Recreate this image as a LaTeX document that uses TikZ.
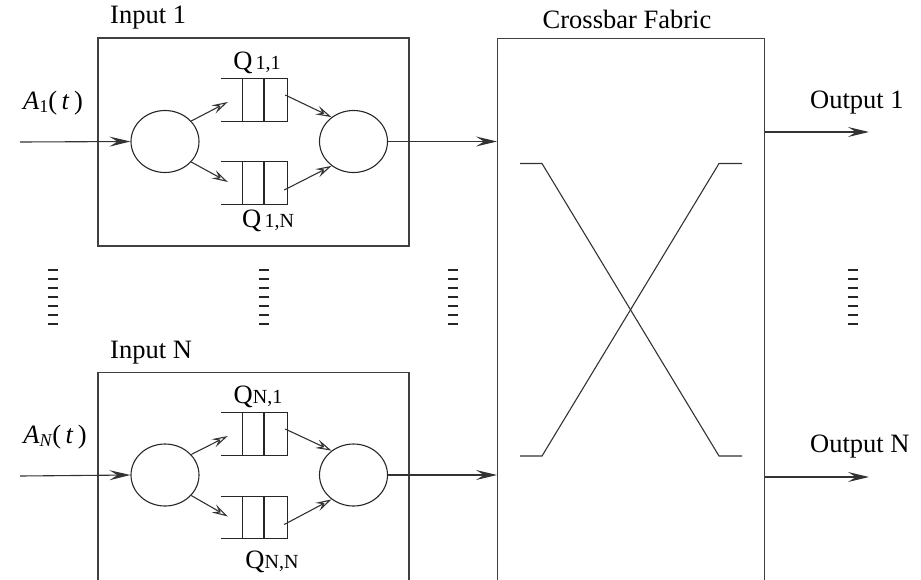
\documentclass[tikz,border=0pt]{standalone}
\usepackage{fontspec}
\setmainfont{Liberation Serif}
\usetikzlibrary{shapes.geometric,arrows.meta,calc}
\newcommand{\drawqueue}[1]{%
  \draw[qline] (#1.north west) -- (#1.north east) -- (#1.south east) -- (#1.south west);
  \draw[qline] ($(#1.north west)!0.32!(#1.north east)$) -- ($(#1.south west)!0.32!(#1.south east)$);
  \draw[qline] ($(#1.north west)!0.65!(#1.north east)$) -- ($(#1.south west)!0.65!(#1.south east)$);
}
\newcommand{\qsmall}{\fontsize{20}{24}\selectfont}
\tikzset{
  every node/.style={font=\fontsize{26.5}{31}\selectfont},
  line/.style={line width=1.1pt, draw=black!80},
  qline/.style={line width=1.1pt, draw=black!85},
  box/.style={line width=1.1pt, draw=black!75},
  srv/.style={ellipse, draw=black!85, line width=1.1pt, minimum width=68pt, minimum height=62pt, inner sep=0pt},
  queue/.style={rectangle, draw=none, minimum width=66pt, minimum height=42pt, inner sep=0pt},
  bigarrow/.style={line, -{Stealth[length=21pt,width=10pt,inset=8pt]}},
  smallarrow/.style={line, -{Stealth[open,length=16pt,width=9pt,inset=6pt]}},
  dots/.style={line width=2.8pt, draw=black!85},
  lbl/.style={inner sep=0pt}
}
\begin{document}
\begin{tikzpicture}[x=1pt,y=-1pt]
\useasboundingbox (0,0) rectangle (921,579);
\clip (0,0) rectangle (921,579);

% ---------- Input 1 ----------
\node[box, rectangle, minimum width=311pt, minimum height=208pt, inner sep=0pt] (in1) at (253.5,142) {};
\node[lbl, anchor=west] (in1lbl) at (110,18) {Input 1};
\node[srv] (cin1) at (165,141.5) {};
\node[srv] (cout1) at (353.5,141.5) {};
\node[queue] (q11) at (254,100) {};
\node[queue] (q1n) at (254,183) {};
\drawqueue{q11}
\drawqueue{q1n}
\node[lbl] (q11lbl) at (257,63) {Q{\qsmall\,1,1}};
\node[lbl] (q1nlbl) at (268,221) {Q{\qsmall\,1,N}};
\coordinate (a1) at (20,142);
\node[lbl] (a1lbl) at (53,103) {\textit{A}\raisebox{-0.25ex}{\fontsize{18}{20}\selectfont 1}(\,\textit{t}\,)};
\draw[bigarrow] (a1) -- (cin1.west);
\draw[smallarrow] (cin1.38) -- ([xshift=7pt,yshift=-2pt]q11.west);
\draw[smallarrow] (cin1.-38) -- ([xshift=7pt,yshift=1pt]q1n.west);
\draw[smallarrow] ([xshift=-2pt,yshift=5pt]q11.east) -- (cout1.132);
\draw[smallarrow] ([xshift=-3pt,yshift=-7pt]q1n.east) -- (cout1.228);

% ---------- Input N ----------
\node[box, rectangle, minimum width=311pt, minimum height=240pt, inner sep=0pt, anchor=north] (inN) at (253.5,372) {};
\node[lbl, anchor=west] (inNlbl) at (110,353) {Input N};
\node[srv] (cinN) at (165,475) {};
\node[srv] (coutN) at (353.5,475) {};
\node[queue] (qN1) at (254,434) {};
\node[queue] (qNN) at (254,517.5) {};
\drawqueue{qN1}
\drawqueue{qNN}
\node[lbl] (qN1lbl) at (258,397) {Q{\qsmall N,1}};
\node[lbl] (qNNlbl) at (272,562) {Q{\qsmall N,N}};
\coordinate (aN) at (20,476);
\node[lbl] (aNlbl) at (55,437) {\textit{A}\raisebox{-0.25ex}{\fontsize{18}{20}\selectfont\textit{N}}(\,\textit{t}\,)};
\draw[bigarrow] (aN) -- (cinN.west);
\draw[smallarrow] (cinN.38) -- ([xshift=7pt,yshift=-2pt]qN1.west);
\draw[smallarrow] (cinN.-38) -- ([xshift=7pt,yshift=1pt]qNN.west);
\draw[smallarrow] ([xshift=-2pt,yshift=5pt]qN1.east) -- (coutN.132);
\draw[smallarrow] ([xshift=-3pt,yshift=-7pt]qNN.east) -- (coutN.228);

% ---------- Crossbar ----------
\node[box, rectangle, minimum width=267pt, minimum height=580pt, inner sep=0pt, anchor=north west] (xbar) at (497,37.5) {};
\node[lbl] (xbarlbl) at (627,19) {Crossbar Fabric};
\draw[bigarrow] (cout1.east) -- (cout1.east -| xbar.west);
\draw[bigarrow] (coutN.east) -- (coutN.east -| xbar.west);
\draw[line] (520,163.5) -- (542,163.5) -- (719,456) -- (742,456);
\draw[line] (520,456) -- (542,456) -- (719,163.5) -- (742,163.5);

% ---------- Outputs ----------
\coordinate (o1) at (869,132);
\coordinate (oN) at (869,477);
\draw[bigarrow] (o1 -| xbar.east) -- (o1);
\draw[bigarrow] (oN -| xbar.east) -- (oN);
\node[lbl, anchor=west] (o1lbl) at (810,103) {Output 1};
\node[lbl, anchor=west] (oNlbl) at (810,447) {Output N};

% ---------- vertical dots ----------
\foreach \x in {53,264,453,853}{
  \foreach \k in {0,...,6}{
    \draw[dots] (\x-5,270+9*\k) -- (\x+5,270+9*\k);
  }
}
\end{tikzpicture}
\end{document}
